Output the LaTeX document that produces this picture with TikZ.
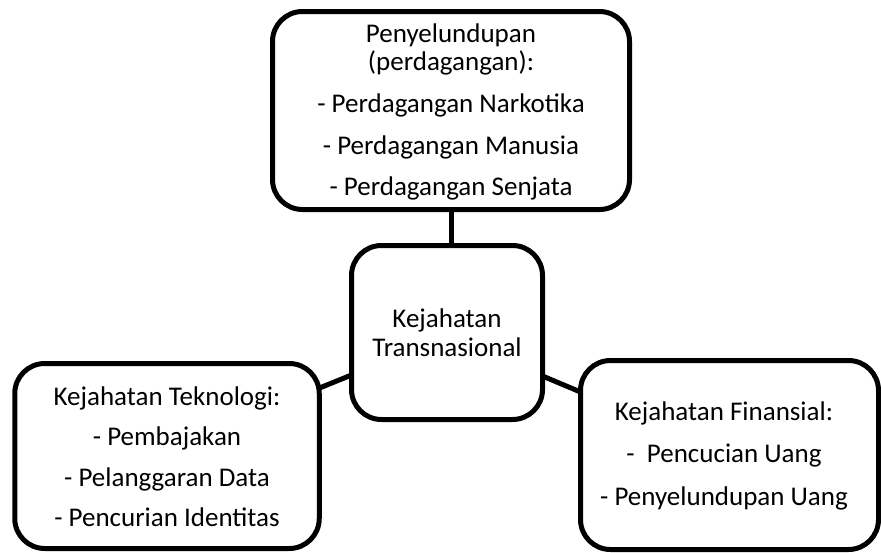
\documentclass[tikz,border=0pt]{standalone}
\usepackage{fontspec}
\setmainfont{Carlito}
\begin{document}
\begin{tikzpicture}[x=1pt,y=-1pt,
  box/.style={draw=black, line width=5pt, rounded corners=30pt, fill=white, inner sep=0pt, anchor=center},
  txt/.style={inner sep=0pt, align=center, font=\fontsize{27}{28}\selectfont},
  link/.style={draw=black, line width=5pt}]
\useasboundingbox (0,0) rectangle (881,552);
% boxes
\node[box, minimum width=357pt, minimum height=198pt] (top) at (451,110.5) {};
\node[box, minimum width=191pt, minimum height=174pt] (mid) at (447,332.5) {};
\node[box, minimum width=304.5pt, minimum height=185pt] (left) at (167,456) {};
\node[box, minimum width=298pt, minimum height=189pt] (right) at (729.5,455) {};
% connectors
\coordinate (topfoot) at (451,245.5);
\draw[link] (top.south -| topfoot) -- (topfoot);
\coordinate (lA) at (319.5,388);
\coordinate (lB) at (351.5,375);
\draw[link] (lA) -- (lB);
\coordinate (rA) at (542.5,376);
\coordinate (rB) at (580.5,392);
\draw[link] (rA) -- (rB);
% texts
\node[txt] (ttop) at (451,112) {Penyelundupan\\(perdagangan):\\[14pt]- Perdagangan Narkotika\\[14pt]- Perdagangan Manusia\\[13pt]- Perdagangan Senjata};
\node[txt, font=\fontsize{27}{29}\selectfont] (tmid) at (447,332.5) {Kejahatan\\Transnasional};
\node[txt, font=\fontsize{27}{40.5}\selectfont] (tleft) at (167,456.5) {Kejahatan Teknologi:\\- Pembajakan\\- Pelanggaran Data\\- Pencurian Identitas};
\node[txt, font=\fontsize{27}{42.5}\selectfont] (tright) at (724,455.5) {Kejahatan Finansial:\\-\ \ Pencucian Uang\\- Penyelundupan Uang};
\end{tikzpicture}
\end{document}
